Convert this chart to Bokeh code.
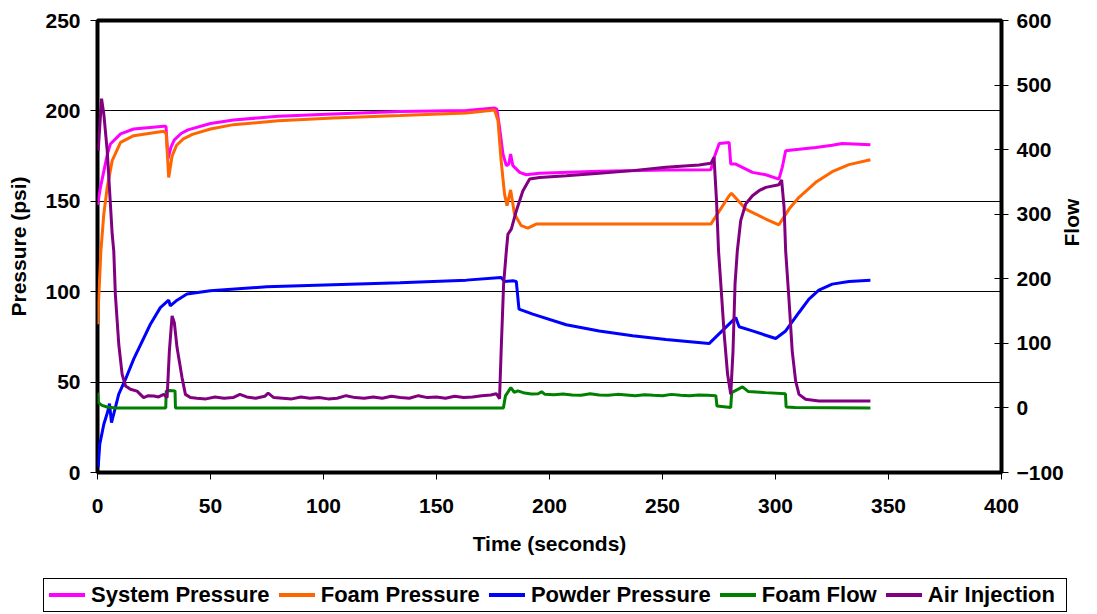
import math
from bokeh.plotting import figure
from bokeh.layouts import column
from bokeh.models import Range1d, LinearAxis, FixedTicker, Div
from bokeh.embed import file_html
from bokeh.resources import INLINE

# ---------------- data ----------------
x_ticks = [0, 50, 100, 150, 200, 250, 300, 350, 400]
psi_ticks = [0, 50, 100, 150, 200, 250]
flow_ticks = [-100, 0, 100, 200, 300, 400, 500, 600]

sys_t = [0, 1.3, 4.4, 5.7, 10.2, 16, 29.3, 30.3, 31.2, 32.5, 34, 37, 40, 50, 60.2, 80,
         104.3, 133.8, 163.2, 175.7, 176.7, 177.9, 179.4, 180.9, 182, 182.8, 183.8,
         186.8, 189.7, 195.6, 222, 251.5, 271.4, 272.9, 275.1, 279.5, 280.2, 282.4,
         289.8, 295.7, 301.5, 303, 304.5, 307.4, 310.4, 317.8, 325.1, 329.5, 342]
sys_p = [148, 157.7, 176.2, 181.7, 187.3, 190, 191.5, 191.5, 173.5, 180, 184, 187.5, 189.5, 193, 195, 197,
         198.3, 199.6, 200.2, 201.6, 201, 190.9, 176.2, 169.7, 170.6, 176.2, 169.7,
         166, 164.7, 165.5, 166.6, 167.3, 167.5, 174.3, 182, 182.5, 170.6, 170.6,
         166, 164.7, 162.3, 168.8, 178, 178.4, 178.8, 179.8, 181, 182, 181.3]

foam_t = [0, 1.5, 2.8, 4.3, 6.5, 10.2, 16, 29.3, 30.4, 31.5, 33, 35, 38, 42, 50, 60.2, 80,
          104.3, 133.8, 163.2, 175.7, 177.2, 178.6, 180.1, 181.2, 182.8, 184.5, 187.5,
          190.4, 194.1, 222, 250, 271.4, 279.5, 280.5, 286.8, 295.7, 301.5, 306, 310.4,
          317.8, 325.1, 332.5, 342]
foam_p = [82, 122.6, 143, 157.7, 172.5, 182.6, 186.3, 188.7, 187.5, 163.2, 175, 181, 184.5, 187, 190, 192.4, 194.5,
          196.1, 197.4, 198.9, 200.5, 194.6, 172.5, 154, 147.6, 156.3, 143, 136.5,
          135.2, 137.4, 137.4, 137.4, 137.4, 153.1, 154.4, 145.7, 140.2, 137, 145.7, 152.2,
          160.5, 166.4, 170.3, 173]

powder_t = [0.3, 1, 2.8, 4.6, 5.3, 6.2, 7.9, 9.4, 12.4, 16, 23.4, 27.8, 31.5, 32.2, 35.2, 39.6,
            49.9, 74.9, 104.3, 133.8, 163.2, 178.6, 180.1, 183.8, 185.3, 186.5, 192.6, 207.4,
            222, 236.8, 251.5, 270.6, 282.4, 283.9, 289.8, 300.1, 304.5, 310.4, 314.8, 319.2,
            325.1, 332.5, 342]
powder_p = [3, 15.6, 26.7, 34, 38.1, 27.6, 35.9, 43.3, 51.6, 62.7, 82, 91.2, 95.3, 92.2, 95.3, 98.7,
            100.5, 102.7, 103.8, 104.9, 106.4, 107.9, 105.7, 106, 105.7, 90.4, 87.6, 81.7,
            78.3, 75.6, 73.5, 71.3, 85.7, 80.6, 78.3, 74.1, 78.3, 88.5, 95.9, 100.9,
            104.2, 105.7, 106.4]

flow_t = [0, 0.4, 2, 4.2, 8, 30.2, 30.4, 32, 34.3, 34.5, 179.6, 180.5, 182.9, 184.4,
          186, 189, 192, 195, 196.5, 198, 202, 206, 210, 214, 218, 222, 226, 230, 234, 238,
          242, 246, 250, 254, 258, 262, 266, 270, 273.6, 274.1, 280.2, 280.6, 285.4, 288,
          295.7, 304.4, 304.7, 308.7, 342]
flow_v = [23.7, 8.2, 4, 1.5, 0, 0, 26.4, 27, 26.4, 0, 0, 18.6, 31.5, 24.2,
          26.4, 23, 21.5, 22, 25, 21, 20.5, 21.5, 20, 19.5, 22, 20, 19.5, 21, 20, 19,
          20.5, 19.5, 19, 21, 19.5, 19, 20, 19.5, 19, 3, 0.8, 23.7, 32.6, 25.3,
          23.7, 22, 1.5, 0.5, 0]

air_t = [0.3, 1.8, 2.8, 4.3, 6.5, 7.2, 7.9, 9.4, 10.9, 12.4, 14.6, 17.5, 20.4, 22.5, 24.9, 27,
         29.3, 30.8, 31.8, 33, 34, 35.2, 37.4, 38.9, 41.1,
         44, 48, 52, 56, 60, 63, 66, 70, 74, 75.5, 78, 82, 86, 90, 94, 98, 102, 106, 110,
         114, 118, 122, 126, 130, 134, 138, 142, 146, 150, 154, 158, 162, 166, 170, 174,
         176.5, 177.9, 178.6, 179.7, 180.9, 181.6, 183.1, 185.3, 188.2, 191.2, 195.6,
         207.4, 222, 236.8, 251.5, 266.2, 271.4, 272.8, 273.9, 274.8, 275.8, 277.3,
         278.8, 280.2, 281.2, 282.1, 283.1, 284.6, 286.8, 289.8, 292.7, 295.7, 301.5,
         302.7, 303.8, 304.5, 306, 307.4, 308.9, 310.4, 313.3, 319.2, 342]
air_v = [398, 479, 455, 398, 269, 243, 176, 99, 52, 34, 29, 26, 16, 19, 18.6, 17,
         21, 16, 88, 142.6, 132, 93.5, 47, 21, 16,
         15, 14, 17, 15, 16, 21, 17, 15, 18, 23, 16, 15, 14, 17, 15, 16, 14, 15, 19,
         16, 15, 17, 15, 18, 16, 15, 19, 16, 17, 15, 18, 16, 17, 19, 20,
         22, 14.4, 88, 192, 243, 269, 277, 305, 336, 354.6, 357,
         359.7, 363.3, 367.5, 372.6, 376.3, 378.8, 388, 321, 243, 192, 114,
         52, 21, 88, 192, 243, 290, 315.8, 328.7, 336.4, 341.6, 345.7,
         353, 310.5, 243, 166, 88, 42, 21, 13.5, 10.9, 10.9]

series_names = ["System Pressure", "Foam Pressure", "Powder Pressure", "Foam Flow", "Air Injection"]
series_colors = ["#FF00FF", "#FF6600", "#0000FF", "#008000", "#800080"]
series_data = [(sys_t, sys_p), (foam_t, foam_p), (powder_t, powder_p), (flow_t, flow_v), (air_t, air_v)]

# ---------------- main figure ----------------
FONT = "Liberation Sans"
FS = "21px"

p = figure(width=1097, height=568, x_range=Range1d(0, 400), y_range=Range1d(0, 250),
           output_backend="svg", toolbar_location=None,
           min_border_left=97, min_border_right=94, min_border_top=20, min_border_bottom=96)
p.extra_y_ranges = {"flow": Range1d(-100, 600)}
p.background_fill_color = "white"
p.border_fill_color = "white"
p.outline_line_color = "black"
p.outline_line_width = 4

p.xgrid.visible = False
p.ygrid.ticker = FixedTicker(ticks=psi_ticks)
p.ygrid.grid_line_color = "black"
p.ygrid.grid_line_width = 1

for i, (tt, vv) in enumerate(series_data):
    kw = {"y_range_name": "flow"} if i >= 3 else {}
    p.line(tt, vv, line_color=series_colors[i], line_width=3, **kw)

yr = LinearAxis(y_range_name="flow", ticker=FixedTicker(ticks=flow_ticks), axis_label="Flow")
p.add_layout(yr, "right")

p.xaxis.ticker = FixedTicker(ticks=x_ticks)
p.xaxis.axis_label = "Time (seconds)"
p.yaxis[0].ticker = FixedTicker(ticks=psi_ticks)
p.yaxis[0].axis_label = "Pressure (psi)"

for ax in [p.xaxis[0], p.yaxis[0], yr]:
    ax.axis_line_color = None
    ax.minor_tick_line_color = None
    ax.major_tick_line_color = "black"
    ax.major_tick_line_width = 1
    ax.major_tick_out = 7
    ax.major_tick_in = 0
    ax.major_label_text_font = FONT
    ax.major_label_text_font_style = "bold"
    ax.major_label_text_font_size = FS
    ax.major_label_text_color = "black"
    ax.axis_label_text_font = FONT
    ax.axis_label_text_font_style = "bold"
    ax.axis_label_text_font_size = FS
    ax.axis_label_text_color = "black"

p.yaxis[0].major_label_standoff = 10
p.yaxis[0].axis_label_standoff = 12
yr.major_tick_in = 7
yr.major_label_standoff = 8
yr.axis_label_standoff = 5
if "axis_label_orientation" in yr.properties():
    yr.axis_label_orientation = math.pi / 2
p.xaxis[0].major_label_standoff = 19
p.xaxis[0].axis_label_standoff = 16

# ---------------- legend strip (HTML text, one entry per series) ----------------
entries = "".join(
    f'<span style="display:inline-flex;align-items:center;white-space:nowrap;">'
    f'<span style="display:inline-block;width:36px;height:4px;background:{c};margin-right:6px;"></span>'
    f'{n}</span>'
    for n, c in zip(series_names, series_colors)
)
legend_html = (
    '<div style="box-sizing:border-box;margin:10px 0 0 43px;width:1024px;height:34px;'
    'border:1.5px solid #000;background:#fff;display:flex;align-items:center;'
    'justify-content:space-between;padding:0 11px 0 5px;'
    f"font-family:'{FONT}',Arial,sans-serif;font-weight:bold;font-size:22px;color:#000;"
    f'line-height:1;">{entries}</div>'
)
legend_div = Div(text=legend_html, width=1097, height=46, margin=(0, 0, 0, 0))

open("out.html", "w").write(file_html(column(p, legend_div, spacing=0), INLINE))
